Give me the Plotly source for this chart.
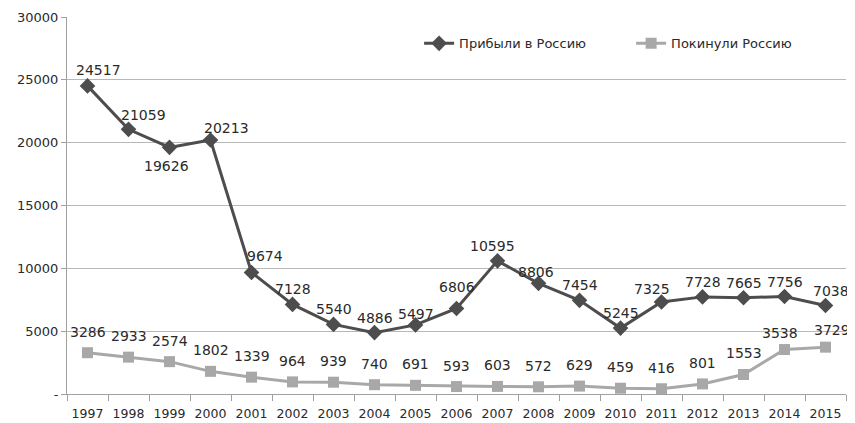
import plotly.graph_objects as go

years = [str(y) for y in range(1997, 2016)]
arrived = [24517, 21059, 19626, 20213, 9674, 7128, 5540, 4886, 5497, 6806,
           10595, 8806, 7454, 5245, 7325, 7728, 7665, 7756, 7038]
left = [3286, 2933, 2574, 1802, 1339, 964, 939, 740, 691, 593,
        603, 572, 629, 459, 416, 801, 1553, 3538, 3729]
name_arrived = "Прибыли в Россию"
name_left = "Покинули Россию"
y_tickvals = [0, 5000, 10000, 15000, 20000, 25000, 30000]
y_ticktext = ["-", "5000", "10000", "15000", "20000", "25000", "30000"]

# label offsets (style only)
shift1 = {0: (11, 16), 1: (15, 14), 2: (-3, -19), 3: (16, 12), 4: (13, 16),
          9: (0, 21), 10: (-5, 15), 8: (0, 11), 11: (-3, 11), 17: (0, 15), 18: (5, 15), 14: (-10, 13)}
shift2 = {17: (-5, 17), 18: (6, 17)}

FONT = "DejaVu Sans"
c1 = "#4d4d4d"
c2 = "#a8a8a8"

fig = go.Figure()
fig.add_trace(go.Scatter(x=years, y=arrived, name=name_arrived, mode="lines+markers",
                         line=dict(color=c1, width=3),
                         marker=dict(symbol="diamond", size=12, color=c1)))
fig.add_trace(go.Scatter(x=years, y=left, name=name_left, mode="lines+markers",
                         line=dict(color=c2, width=3),
                         marker=dict(symbol="square", size=11, color=c2)))

for i, v in enumerate(arrived):
    dx, dy = shift1.get(i, (0, 15))
    fig.add_annotation(x=i, y=v, xref="x", yref="y", text=str(v), showarrow=False,
                       xshift=dx, yshift=dy,
                       font=dict(family=FONT, size=14, color="#2a2a2a"))
for i, v in enumerate(left):
    dx, dy = shift2.get(i, (0, 21))
    fig.add_annotation(x=i, y=v, xref="x", yref="y", text=str(v), showarrow=False,
                       xshift=dx, yshift=dy,
                       font=dict(family=FONT, size=14, color="#2a2a2a"))

fig.update_layout(
    width=847, height=415,
    margin=dict(l=59, r=9, t=9, b=29, autoexpand=False),
    plot_bgcolor="white", paper_bgcolor="white",
    font=dict(family=FONT, size=13, color="#2a2a2a"),
    legend=dict(orientation="h", x=0.452, y=0.93, xanchor="left", yanchor="middle",
                font=dict(family=FONT, size=13, color="#2a2a2a"), bgcolor="rgba(0,0,0,0)",
                itemwidth=30, entrywidth=167, entrywidthmode="pixels"),
    xaxis=dict(type="category", range=[-0.5, 18.5], showgrid=False, automargin=False,
               showline=True, linecolor="#a0a0a0", linewidth=1, tickangle=0,
               ticks="outside", tickson="boundaries", ticklen=6, tickcolor="#a0a0a0",
               ticklabelstandoff=8,
               tickfont=dict(family=FONT, size=12.5, color="#2a2a2a")),
    yaxis=dict(range=[0, 30000], tickvals=y_tickvals, ticktext=y_ticktext, automargin=False,
               showgrid=True, gridcolor="#b8b8b8", gridwidth=1,
               showline=True, linecolor="#a0a0a0", linewidth=1,
               ticks="outside", ticklen=5, tickcolor="#a0a0a0", zeroline=False,
               tickfont=dict(family=FONT, size=13, color="#2a2a2a")),
)
fig.write_html("out.html")
